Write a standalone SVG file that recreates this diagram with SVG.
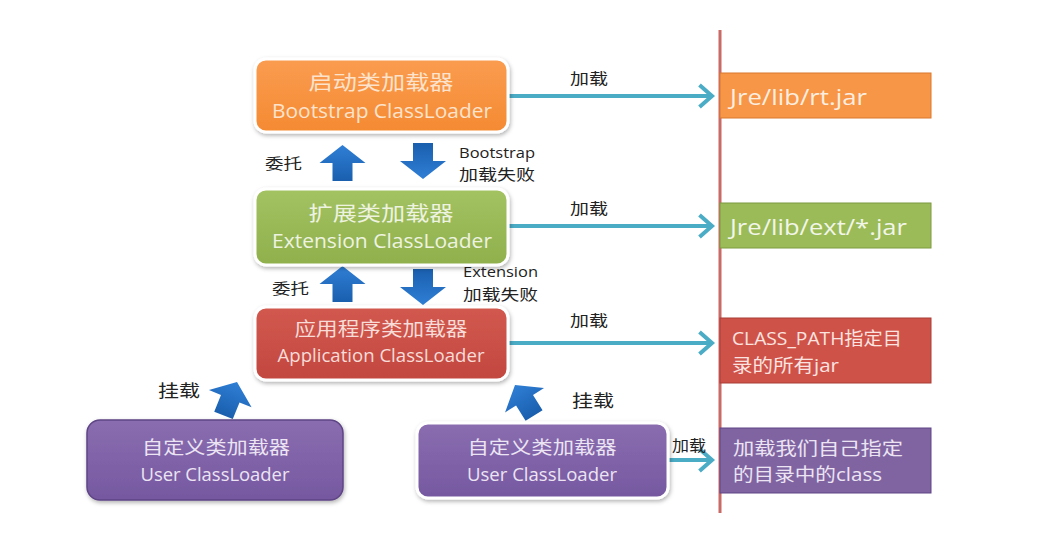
<svg xmlns="http://www.w3.org/2000/svg" width="1056" height="535" viewBox="0 0 1056 535">
<defs>
<linearGradient id="blue" x1="0" y1="0" x2="0" y2="1">
<stop offset="0" stop-color="#2f7fd6"/><stop offset="1" stop-color="#1a5fae"/>
</linearGradient>
<linearGradient id="gOrange" x1="0" y1="0" x2="0" y2="1"><stop offset="0" stop-color="#fa9c50"/><stop offset="1" stop-color="#f58a32"/></linearGradient>
<linearGradient id="gGreen" x1="0" y1="0" x2="0" y2="1"><stop offset="0" stop-color="#a3c262"/><stop offset="1" stop-color="#8fb04c"/></linearGradient>
<linearGradient id="gRed" x1="0" y1="0" x2="0" y2="1"><stop offset="0" stop-color="#d2594f"/><stop offset="1" stop-color="#c2473f"/></linearGradient>
<linearGradient id="gPurple" x1="0" y1="0" x2="0" y2="1"><stop offset="0" stop-color="#8a6db0"/><stop offset="1" stop-color="#7558a0"/></linearGradient>
<filter id="sh" x="-10%" y="-20%" width="120%" height="150%"><feDropShadow dx="1" dy="2" stdDeviation="2" flood-color="#000" flood-opacity="0.3"/></filter>
<marker id="ah" markerWidth="8" markerHeight="10" refX="6.5" refY="5" orient="auto" markerUnits="userSpaceOnUse" viewBox="0 0 8 10" overflow="visible">
<path d="M-6,-6 L6.5,5 L-6,16" fill="none" stroke="#4bacc6" stroke-width="4" stroke-linejoin="miter"/>
</marker>
<path id="uparrow" d="M0,0 L23,18 L10,18 L10,36 L-10,36 L-10,18 L-23,18 Z"/>
</defs>
<style>
.lbl{font-family:"Noto Sans CJK SC","Open Sans",sans-serif;font-size:15px;fill:#222}
.en{font-family:"Open Sans","Noto Sans CJK SC",sans-serif;font-size:14px;fill:#222}
.bt{font-family:"Open Sans","Noto Sans CJK SC",sans-serif;font-size:20px;text-anchor:middle}
.ut{font-family:"Open Sans","Noto Sans CJK SC",sans-serif;font-size:18px;text-anchor:middle;fill:#ece4f3}
.rt{font-family:"Open Sans","Noto Sans CJK SC",sans-serif;font-size:22px}
.rt2{font-family:"Open Sans","Noto Sans CJK SC",sans-serif;font-size:18px}
.conn{stroke:#4bacc6;stroke-width:4;fill:none}
.box{stroke:#fff;stroke-width:3;filter:url(#sh)}
.blk{fill:url(#blue)}
</style>
<rect width="1056" height="535" fill="#fff"/>

<line x1="720" y1="30" x2="720" y2="513" stroke="#c96a66" stroke-width="3"/>

<g id="connectors">
<line class="conn" x1="508" y1="96" x2="712" y2="96" marker-end="url(#ah)"/>
<line class="conn" x1="508" y1="226" x2="712" y2="226" marker-end="url(#ah)"/>
<line class="conn" x1="508" y1="343" x2="712" y2="343" marker-end="url(#ah)"/>
<line class="conn" x1="668" y1="460" x2="712" y2="460" marker-end="url(#ah)"/>
<text class="lbl" x="570" y="84" textLength="38" lengthAdjust="spacingAndGlyphs">加载</text>
<text class="lbl" x="570" y="214" textLength="38" lengthAdjust="spacingAndGlyphs">加载</text>
<text class="lbl" x="570" y="326" textLength="38" lengthAdjust="spacingAndGlyphs">加载</text>
<text class="lbl" x="672" y="451" textLength="34" lengthAdjust="spacingAndGlyphs">加载</text>
<use href="#uparrow" class="blk" transform="translate(342.5,145)"/>
<use href="#uparrow" class="blk" transform="translate(423,179) rotate(180)"/>
<use href="#uparrow" class="blk" transform="translate(342.5,266)"/>
<use href="#uparrow" class="blk" transform="translate(423,305) rotate(180)"/>
<use href="#uparrow" class="blk" transform="translate(237,382) rotate(22)"/>
<use href="#uparrow" class="blk" transform="translate(515,385) rotate(-32)"/>
<text class="lbl" x="265" y="169" textLength="37" lengthAdjust="spacingAndGlyphs">委托</text>
<text class="en" x="459" y="158" textLength="76" lengthAdjust="spacingAndGlyphs">Bootstrap</text>
<text class="lbl" x="459" y="180" textLength="76" lengthAdjust="spacingAndGlyphs">加载失败</text>
<text class="lbl" x="272" y="294" textLength="37" lengthAdjust="spacingAndGlyphs">委托</text>
<text class="en" x="463" y="277" textLength="75" lengthAdjust="spacingAndGlyphs">Extension</text>
<text class="lbl" x="463" y="300" textLength="75" lengthAdjust="spacingAndGlyphs">加载失败</text>
<text class="lbl" x="158" y="397" style="font-size:17px" textLength="42" lengthAdjust="spacingAndGlyphs">挂载</text>
<text class="lbl" x="572" y="407" style="font-size:17px" textLength="42" lengthAdjust="spacingAndGlyphs">挂载</text>
</g>

<g id="bootstrap">
<rect class="box" x="255" y="59" width="253" height="73" rx="11" fill="url(#gOrange)"/>
<text class="bt" x="381" y="90" fill="#fde3cc" textLength="145" lengthAdjust="spacingAndGlyphs">启动类加载器</text>
<text class="bt" x="382" y="118" fill="#fde3cc" textLength="220" lengthAdjust="spacingAndGlyphs">Bootstrap ClassLoader</text>
</g>
<g id="extension">
<rect class="box" x="255" y="189" width="253" height="76" rx="11" fill="url(#gGreen)"/>
<text class="bt" x="381" y="221" fill="#eef3e0" textLength="145" lengthAdjust="spacingAndGlyphs">扩展类加载器</text>
<text class="bt" x="382" y="248" fill="#eef3e0" textLength="220" lengthAdjust="spacingAndGlyphs">Extension ClassLoader</text>
</g>
<g id="application">
<rect class="box" x="255" y="307" width="253" height="73" rx="11" fill="url(#gRed)"/>
<text class="bt" x="381" y="336" fill="#f7dcd8" style="font-size:19px" textLength="173" lengthAdjust="spacingAndGlyphs">应用程序类加载器</text>
<text class="bt" x="381" y="362" fill="#f7dcd8" style="font-size:19px" textLength="207" lengthAdjust="spacingAndGlyphs">Application ClassLoader</text>
</g>
<g id="user1">
<rect x="87" y="420" width="256" height="80" rx="13" fill="url(#gPurple)" stroke="#5e4585" stroke-width="1.5" filter="url(#sh)"/>
<text class="ut" x="216" y="454" textLength="148" lengthAdjust="spacingAndGlyphs">自定义类加载器</text>
<text class="ut" x="215" y="481" textLength="149" lengthAdjust="spacingAndGlyphs">User ClassLoader</text>
</g>
<g id="user2">
<rect class="box" x="417" y="423" width="251" height="75" rx="11" fill="url(#gPurple)"/>
<text class="ut" x="542" y="454" textLength="149" lengthAdjust="spacingAndGlyphs">自定义类加载器</text>
<text class="ut" x="542" y="481" textLength="150" lengthAdjust="spacingAndGlyphs">User ClassLoader</text>
</g>

<g id="rtjar">
<rect x="720" y="73" width="211" height="45" fill="#f79646" stroke="#d9782e" stroke-width="1"/>
<text class="rt" x="730" y="105" fill="#fdeee0" textLength="137" lengthAdjust="spacingAndGlyphs">Jre/lib/rt.jar</text>
</g>
<g id="extjar">
<rect x="720" y="203" width="211" height="45" fill="#9bbb59" stroke="#7d9a3f" stroke-width="1"/>
<text class="rt" x="730" y="235" fill="#f2f6e8" textLength="177" lengthAdjust="spacingAndGlyphs">Jre/lib/ext/*.jar</text>
</g>
<g id="classpath">
<rect x="720" y="318" width="211" height="65" fill="#cf5248" stroke="#a83c35" stroke-width="1"/>
<text class="rt2" x="732" y="345" fill="#fbe4e0" textLength="170" lengthAdjust="spacingAndGlyphs">CLASS_PATH指定目</text>
<text class="rt2" x="732" y="372" fill="#fbe4e0" textLength="107" lengthAdjust="spacingAndGlyphs">录的所有jar</text>
</g>
<g id="userdir">
<rect x="720" y="428" width="211" height="65" fill="#8064a2" stroke="#5e4585" stroke-width="1"/>
<text class="rt2" x="733" y="455" fill="#ece4f3" textLength="170" lengthAdjust="spacingAndGlyphs">加载我们自己指定</text>
<text class="rt2" x="733" y="481" fill="#ece4f3" textLength="149" lengthAdjust="spacingAndGlyphs">的目录中的class</text>
</g>
</svg>
